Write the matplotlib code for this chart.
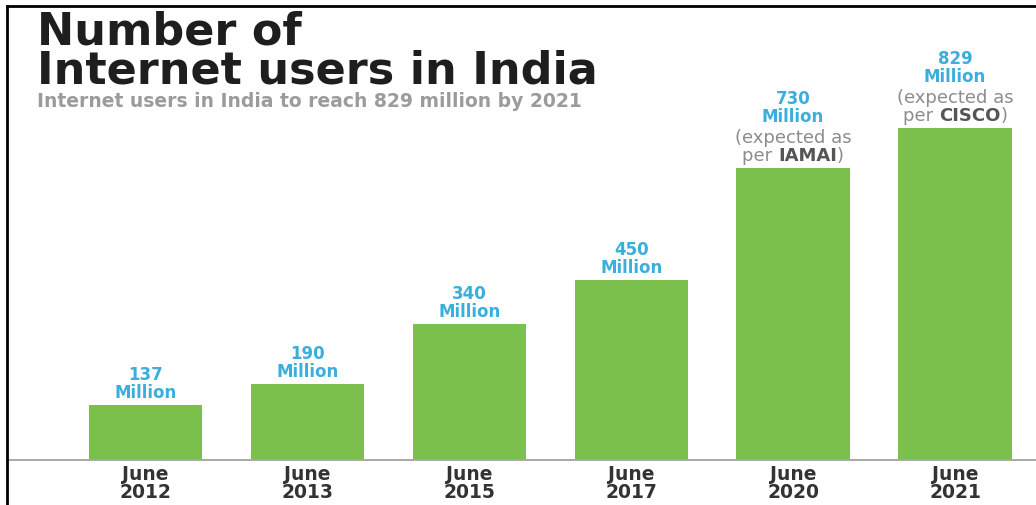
import matplotlib
matplotlib.use("Agg")
import matplotlib.pyplot as plt
from matplotlib.lines import Line2D
from matplotlib.offsetbox import TextArea, VPacker, HPacker, AnnotationBbox

# ---- data -------------------------------------------------------------
periods = ["June\n2012", "June\n2013", "June\n2015", "June\n2017", "June\n2020", "June\n2021"]
users_millions = [137, 190, 340, 450, 730, 829]
sources = [None, None, None, None, "IAMAI", "CISCO"]

title = "Number of\nInternet users in India"
subtitle = "Internet users in India to reach 829 million by 2021"

# ---- style ------------------------------------------------------------
BAR_GREEN = "#7BBF4D"
VALUE_BLUE = "#3AAEDC"
NOTE_GREY = "#8C8C8C"
SOURCE_GREY = "#555555"
LABEL_DARK = "#333333"
FONT = "DejaVu Sans"

plt.rcParams["font.family"] = [FONT]

W, H, DPI = 1036, 506, 100
fig = plt.figure(figsize=(W / DPI, H / DPI), dpi=DPI)
fig.patch.set_facecolor("white")

# axes: from the left frame edge to the right edge, baseline near the bottom
ax_left = 7 / W
ax_bottom = (H - 461) / H
ax = fig.add_axes([ax_left, ax_bottom, 1 - ax_left, 1 - ax_bottom])
ax.set_facecolor("none")

x = list(range(len(users_millions)))
ax.bar(x, users_millions, width=0.70, color=BAR_GREEN, zorder=2)

ax.set_xlim(-0.855, 5.50)
ax.set_ylim(0, 1152)

for side in ("left", "top", "right"):
    ax.spines[side].set_visible(False)
ax.spines["bottom"].set_color("#A8A8A8")
ax.spines["bottom"].set_linewidth(1.4)
ax.set_yticks([])
ax.set_xticks(x)
ax.set_xticklabels(periods, fontsize=13.5, fontweight="bold", color=LABEL_DARK,
                   linespacing=0.95)
ax.tick_params(axis="x", length=0, pad=3)

# value labels (with source notes for the projections)
for xi, val, src in zip(x, users_millions, sources):
    vprops = dict(color=VALUE_BLUE, fontsize=12, fontweight="bold", family=FONT)
    value_block = VPacker(children=[TextArea(f"{val}", textprops=vprops),
                                    TextArea("Million", textprops=vprops)],
                          align="center", pad=0, sep=0)
    blocks = [value_block]
    if src is not None:
        nprops = dict(color=NOTE_GREY, fontsize=13, family=FONT)
        sprops = dict(color=SOURCE_GREY, fontsize=13, fontweight="bold", family=FONT)
        line1 = TextArea("(expected as", textprops=nprops)
        line2 = HPacker(children=[TextArea("per ", textprops=nprops),
                                  TextArea(src, textprops=sprops),
                                  TextArea(")", textprops=nprops)],
                        align="baseline", pad=0, sep=0)
        note_block = VPacker(children=[line1, line2], align="center", pad=0, sep=0)
        blocks.append(note_block)
    box = VPacker(children=blocks, align="center", pad=0, sep=2)
    ab = AnnotationBbox(box, (xi, val), xybox=(0, 3), xycoords="data",
                        boxcoords="offset points", box_alignment=(0.5, 0),
                        frameon=False, pad=0, annotation_clip=False)
    ax.add_artist(ab)

# heading
fig.text(37 / W, 1 - 84 / H, title, ha="left", va="baseline", fontsize=32,
         fontweight="bold", color="#1E1E1E", linespacing=0.9)
fig.text(37 / W, 1 - 107 / H, subtitle, ha="left", va="baseline", fontsize=13.5,
         fontweight="bold", color="#9B9B9B")

# frame lines on the top and left edges
fig.add_artist(Line2D([6.5 / W, 6.5 / W], [0, 1 - 6.5 / H], transform=fig.transFigure,
                      color="black", linewidth=2.0))
fig.add_artist(Line2D([6.5 / W, 1], [1 - 6.5 / H, 1 - 6.5 / H], transform=fig.transFigure,
                      color="black", linewidth=2.0))

fig.savefig("out.png", dpi=DPI, facecolor="white")
